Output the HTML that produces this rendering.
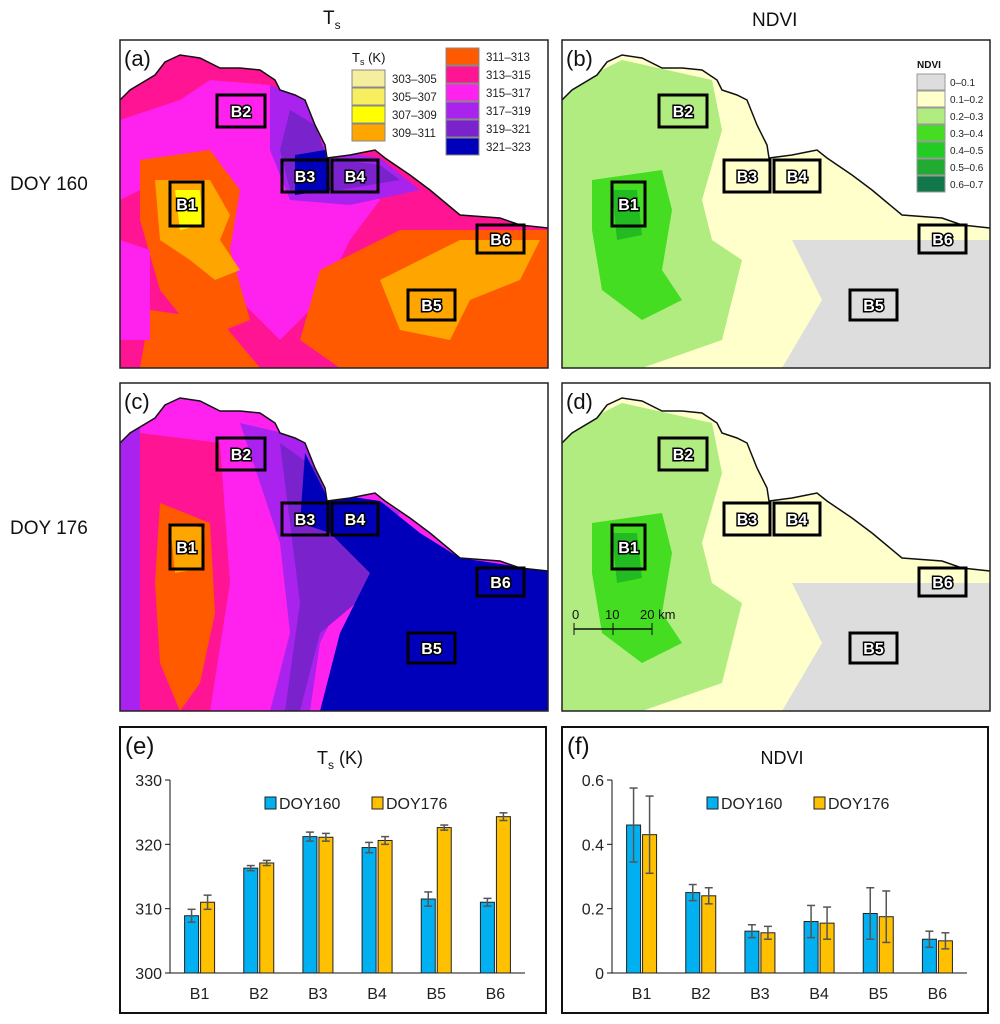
<!DOCTYPE html>
<html><head><meta charset="utf-8"><style>
body{margin:0;background:#fff;font-family:"Liberation Sans",sans-serif;}
#root{position:relative;width:1000px;height:1024px;overflow:hidden;}
.t{position:absolute;font-size:19px;color:#111;}
svg{position:absolute;}
</style></head><body><div id="root">
<div class="t" style="left:323px;top:8px">T<sub style="font-size:12px">s</sub></div>
<div class="t" style="left:752px;top:10px">NDVI</div>
<div class="t" style="left:10px;top:174px">DOY 160</div>
<div class="t" style="left:10px;top:518px">DOY 176</div>
<div id="maps"></div>
<svg id="chartE" width="1000" height="1024" style="left:0;top:0"></svg>
</div>
<script>
const boxNames=['B1','B2','B3','B4','B5','B6'];
const ts160=[308.9,316.3,321.2,319.5,311.5,311.0];
const ts176=[311.0,317.1,321.1,320.6,322.6,324.3];
const tsErr160=[1.0,0.4,0.7,0.8,1.1,0.6];
const tsErr176=[1.1,0.4,0.6,0.6,0.4,0.6];
const nd160=[0.46,0.25,0.13,0.16,0.185,0.105];
const nd176=[0.43,0.24,0.125,0.155,0.175,0.10];
const ndErr160=[0.115,0.025,0.02,0.05,0.08,0.025];
const ndErr176=[0.12,0.025,0.02,0.05,0.08,0.025];
const tsTicks=[300,310,320,330];
const ndTicks=[0,0.2,0.4,0.6];

const NS='http://www.w3.org/2000/svg';
function mk(tag,attrs,parent){const e=document.createElementNS(NS,tag);for(const k in attrs)e.setAttribute(k,attrs[k]);parent.appendChild(e);return e;}
const coast="0,60 10,50 35,35 45,22 60,15 80,18 100,28 120,28 140,30 155,40 160,50 175,55 185,60 195,85 205,105 207,118 230,115 245,112 255,110 265,118 290,135 310,150 340,175 380,178 400,185 428,188";
const boxes=[[50,142,33,44],[97,55,48,32],[162,120,46,32],[212,120,46,32],[288,250,47,30],[357,185,47,28]];
const panels=[
 {x:120,y:40,lab:'(a)',base:'#ff1493',blobs:[
  ['#ff22ee','M0,80 L60,60 L90,40 L150,45 L200,100 L260,160 L230,200 L200,260 L160,300 L120,260 L100,200 L40,140 L0,160Z'],
  ['#aa22ee','M150,45 L185,60 L205,110 L260,118 L300,150 L230,165 L170,160 L150,110Z'],
  ['#7a22cc','M170,70 L195,85 L207,118 L260,125 L280,140 L220,150 L170,150 L160,110Z'],
  ['#0000bb','M175,115 L205,110 L210,150 L175,155Z'],
  ['#ff5a00','M20,120 L90,110 L120,150 L110,210 L130,280 L80,300 L40,250 L20,180Z'],
  ['#ff5a00','M200,230 L280,190 L428,190 L428,328 L220,328 L180,300Z'],
  ['#ff5a00','M30,270 L100,280 L140,328 L20,328Z'],
  ['#ffa500','M35,140 L90,140 L110,175 L100,200 L120,230 L95,240 L70,220 L40,200Z'],
  ['#ffa500','M260,240 L340,200 L420,200 L400,240 L350,260 L330,300 L280,290Z'],
  ['#ffff00','M55,150 L80,150 L82,185 L60,190Z'],
  ['#ff22ee','M0,200 L30,210 L30,300 L0,300Z']]},
 {x:562,y:40,lab:'(b)',base:'#ffffcc',blobs:[
  ['#b0ec80','M0,50 L60,20 L150,40 L160,90 L140,160 L150,200 L180,220 L160,300 L80,328 L0,328Z'],
  ['#44dd22','M30,140 L100,130 L110,170 L100,230 L120,260 L80,280 L40,250 L30,190Z'],
  ['#22bb22','M50,150 L75,150 L80,195 L55,200Z'],
  ['#dddddd','M230,200 L330,200 L428,200 L428,328 L220,328 L260,260Z']]},
 {x:120,y:383,lab:'(c)',base:'#ff22ee',blobs:[
  ['#aa22ee','M0,0 L20,0 L20,328 L0,328Z'],
  ['#ff1493','M20,50 L100,60 L110,200 L90,328 L20,328Z'],
  ['#aa22ee','M120,40 L185,55 L205,110 L260,118 L280,130 L230,200 L200,260 L190,328 L150,328 L170,250 L160,160Z'],
  ['#7a22cc','M160,60 L195,85 L210,120 L280,135 L260,200 L200,250 L180,328 L165,328 L180,220Z'],
  ['#0000bb','M185,70 L205,110 L260,118 L300,150 L340,175 L428,188 L428,328 L200,328 L220,250 L250,190 L210,150 L180,140Z'],
  ['#ff5a00','M40,120 L90,140 L95,230 L80,300 L60,328 L40,280 L35,200Z'],
  ['#ffa500','M50,140 L85,145 L84,185 L55,190Z']]},
 {x:562,y:383,lab:'(d)',base:'#ffffcc',blobs:[
  ['#b0ec80','M0,50 L60,20 L150,40 L160,90 L140,160 L150,200 L180,220 L160,300 L80,328 L0,328Z'],
  ['#44dd22','M30,140 L100,130 L110,170 L100,230 L120,260 L80,280 L40,250 L30,190Z'],
  ['#22bb22','M50,150 L75,150 L80,195 L55,200Z'],
  ['#dddddd','M230,200 L330,200 L428,200 L428,328 L220,328 L260,260Z']]}
];
const maps=document.getElementById('maps');
panels.forEach((p,i)=>{
 const s=mk('svg',{width:430,height:331,style:`left:${p.x-1}px;top:${p.y-1}px`,viewBox:'-1 -1 430 331'},maps);
 
 
 mk('rect',{x:0,y:0,width:428,height:328,fill:p.base},s);
 p.blobs.forEach(b=>mk('path',{d:b[1],fill:b[0]},s));
 mk('polygon',{points:'0,0 428,0 '+coast.split(' ').reverse().join(' '),fill:'#fff'},s);
 mk('polyline',{points:coast,fill:'none',stroke:'#111','stroke-width':1.5},s);
 boxes.forEach((b,j)=>{
  const g=mk('g',{},s);
  
  
  mk('rect',{x:b[0],y:b[1],width:b[2],height:b[3],fill:'none',stroke:'#000','stroke-width':3},g);
  const t=mk('text',{x:b[0]+b[2]/2,y:b[1]+b[3]/2+6,'text-anchor':'middle','font-size':16,'font-weight':'bold',fill:'#fff',stroke:'#000','stroke-width':3,'paint-order':'stroke'},g);t.textContent=boxNames[j];
 });
 const lt=mk('text',{x:4,y:26,'font-size':22,fill:'#111'},s);lt.textContent=p.lab;
 
 mk('rect',{x:0,y:0,width:428,height:328,fill:'none',stroke:'#222','stroke-width':1.5},s);
 if(i===0){
  const lg=mk('g',{},s);
  const tt=mk('text',{x:232,y:22,'font-size':13,fill:'#111'},lg);tt.innerHTML='T<tspan font-size="9" dy="3">s</tspan><tspan dy="-3"> (K)</tspan>';
  const c1=['#f5ee9e','#f7ee60','#ffff00','#ffa500'],l1=['303–305','305–307','307–309','309–311'];
  c1.forEach((c,k)=>{mk('rect',{x:232,y:30+k*18,width:33,height:17,fill:c,stroke:'#888'},lg);const t=mk('text',{x:272,y:43+k*18,'font-size':11.5,fill:'#222'},lg);t.textContent=l1[k];});
  const c2=['#ff5a00','#ff1493','#ff22ee','#aa22ee','#7a22cc','#0000bb'],l2=['311–313','313–315','315–317','317–319','319–321','321–323'];
  c2.forEach((c,k)=>{mk('rect',{x:326,y:8+k*18,width:33,height:17,fill:c,stroke:'#888'},lg);const t=mk('text',{x:366,y:21+k*18,'font-size':11.5,fill:'#222'},lg);t.textContent=l2[k];});
 }
 if(i===1){
  const lg=mk('g',{},s);
  const tt=mk('text',{x:355,y:28,'font-size':10,'font-weight':'bold',fill:'#111'},lg);tt.textContent='NDVI';
  const c=['#dddddd','#ffffcc','#b0ec80','#44dd22','#22cc22','#22aa33','#11774a'],l=['0–0.1','0.1–0.2','0.2–0.3','0.3–0.4','0.4–0.5','0.5–0.6','0.6–0.7'];
  c.forEach((cc,k)=>{mk('rect',{x:355,y:34+k*17,width:28,height:16,fill:cc,stroke:'#999'},lg);const t=mk('text',{x:388,y:46+k*17,'font-size':10,fill:'#222'},lg);t.textContent=l[k];});
 }
 if(i===3){
  const sb=mk('g',{},s);
  mk('line',{x1:12,y1:246,x2:90,y2:246,stroke:'#111','stroke-width':1.5},sb);
  [12,51,90].forEach(x=>{mk('line',{x1:x,y1:240,x2:x,y2:252,stroke:'#111'},sb);});
  [['0',10],['10',43],['20 km',78]].forEach(a=>{const t=mk('text',{x:a[1],y:236,'font-size':13,fill:'#111'},sb);t.textContent=a[0];});
 }
});

function barChart(svg,ox,name,lab,title,v1,v2,e1,e2,ticks,fmt){
 const g=mk('g',{},svg);
 mk('rect',{x:ox,y:727,width:426,height:286,fill:'#fff',stroke:'#111','stroke-width':2},g);
 const L=ox+50,R=ox+405,B=973,T=780,lo=ticks[0],hi=ticks[ticks.length-1];
 const y=v=>B-(v-lo)/(hi-lo)*(B-T);
 const band=(R-L)/boxNames.length;
 const l=mk('text',{x:ox+5,y:754,'font-size':24,fill:'#111'},g);l.textContent=lab;
 const tt=mk('text',{x:ox+220,y:764,'font-size':18,'text-anchor':'middle',fill:'#111'},g);tt.innerHTML=title;
 mk('line',{x1:L,y1:T,x2:L,y2:B,stroke:'#111'},g);mk('line',{x1:L,y1:B,x2:R,y2:B,stroke:'#111'},g);
 ticks.forEach(t=>{mk('line',{x1:L-5,y1:y(t),x2:L,y2:y(t),stroke:'#111'},g);const tx=mk('text',{x:L-8,y:y(t)+6,'font-size':16,'text-anchor':'end',fill:'#222'},g);tx.textContent=fmt(t);});
 boxNames.forEach((n,i)=>{
  const c=L+band*(i+0.5);
  [[v1,e1,'#00b0f0',c-15],[v2,e2,'#ffc000',c+1]].forEach(s=>{
   const r=mk('rect',{x:s[3],y:y(s[0][i]),width:14,height:B-y(s[0][i]),fill:s[2],stroke:'#222','stroke-width':1},g);
   
   const cx=s[3]+7,a=y(s[0][i]+s[1][i]),b=y(s[0][i]-s[1][i]);
   mk('line',{x1:cx,y1:a,x2:cx,y2:b,stroke:'#555','stroke-width':1.5},g);
   mk('line',{x1:cx-4,y1:a,x2:cx+4,y2:a,stroke:'#555','stroke-width':1.5},g);
   mk('line',{x1:cx-4,y1:b,x2:cx+4,y2:b,stroke:'#555','stroke-width':1.5},g);
  });
  const tx=mk('text',{x:c,y:B+26,'font-size':16,'text-anchor':'middle',fill:'#222'},g);tx.textContent=n;
 });
 const lg=mk('g',{},g);
 mk('rect',{x:ox+145,y:797,width:11,height:12,fill:'#00b0f0',stroke:'#222'},lg);
 const a=mk('text',{x:ox+159,y:809,'font-size':16,fill:'#222'},lg);a.textContent='DOY160';
 mk('rect',{x:ox+252,y:797,width:11,height:12,fill:'#ffc000',stroke:'#222'},lg);
 const b=mk('text',{x:ox+266,y:809,'font-size':16,fill:'#222'},lg);b.textContent='DOY176';
}
const svg=document.getElementById('chartE');
barChart(svg,120,'ts-bar-chart-e','(e)','T<tspan font-size="12" dy="5">s</tspan><tspan dy="-5"> (K)</tspan>',ts160,ts176,tsErr160,tsErr176,tsTicks,t=>String(t));
barChart(svg,562,'ndvi-bar-chart-f','(f)','NDVI',nd160,nd176,ndErr160,ndErr176,ndTicks,t=>t===0?'0':t.toFixed(1));
</script></body></html>
